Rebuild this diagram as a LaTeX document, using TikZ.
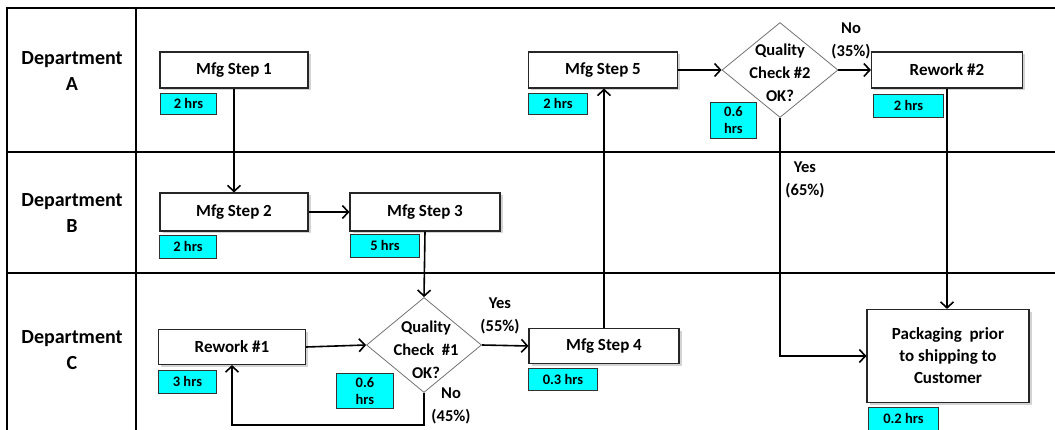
\documentclass[tikz,border=0pt]{standalone}
\usepackage{fontspec}
\setmainfont{Carlito}
\usetikzlibrary{shapes.geometric,shadows,arrows.meta}
\definecolor{timecyan}{RGB}{0,255,255}

\begin{document}
\begin{tikzpicture}[x=1pt,y=-1pt,
    lane/.style={line width=2.2pt, black},
    dept/.style={font=\bfseries\fontsize{20}{26}\selectfont, align=center},
    stepbox/.style={draw=black!85, line width=1.1pt, fill=white, inner sep=0pt,
        drop shadow={shadow xshift=2.5pt, shadow yshift=-2.5pt, opacity=0.35},
        font=\bfseries\fontsize{17}{22}\selectfont, align=center},
    qbox/.style={diamond, draw=black!55, line width=0.8pt, fill=white, inner sep=0pt,
        aspect=1.2, align=center},
    hrs/.style={draw=black!80, line width=0.9pt, fill=timecyan, anchor=north west, inner sep=0pt,
        font=\bfseries\fontsize{14.5}{17}\selectfont, align=center},
    flow/.style={line width=1.6pt, -{Straight Barb[length=6pt,width=13pt,line width=1.6pt]}},
    pct/.style={font=\bfseries\fontsize{16.5}{23}\selectfont, align=center}
]
    \useasboundingbox (0,0) rectangle (1055,430);

    % swim lanes
    \draw[lane] (7,8) -- (1060,8);
    \draw[lane] (7,152) -- (1060,152);
    \draw[lane] (7,273) -- (1060,273);
    \draw[lane] (7,7) -- (7,440);
    \draw[lane] (136,7) -- (136,440);

    \node[dept] (deptA) at (72,71) {Department\\A};
    \node[dept] (deptB) at (72,213) {Department\\B};
    \node[dept] (deptC) at (72,350) {Department\\C};

    % process steps
    \node[stepbox, minimum width=148, minimum height=36] (s1) at (234,70) {Mfg Step 1};
    \node[stepbox, minimum width=148, minimum height=38] (s2) at (234,212) {Mfg Step 2};
    \node[stepbox, minimum width=150, minimum height=38] (s3) at (425,212) {Mfg Step 3};
    \node[stepbox, minimum width=147, minimum height=35] (rw1) at (232,347) {Rework \#1};
    \node[stepbox, minimum width=150, minimum height=35] (s4) at (604,346) {Mfg Step 4};
    \node[stepbox, minimum width=149, minimum height=36] (s5) at (603,70) {Mfg Step 5};
    \node[stepbox, minimum width=151, minimum height=36] (rw2) at (947,70) {Rework \#2};
    \node[stepbox, minimum width=162, minimum height=93] (pk) at (948,356)
        {Packaging\ \ prior\\to shipping to\\Customer};

    % quality checks
    \node[qbox, minimum width=115, minimum height=95] (qc1) at (424,345) {};
    \node[qbox, minimum width=116, minimum height=95] (qc2) at (780,70) {};
    \node[pct] (qc1text) at (426,350) {Quality\\Check\ \ \#1\\OK?};
    \node[pct] (qc2text) at (780,73) {Quality\\Check \#2\\OK?};

    % times
    \node[hrs, minimum width=56, minimum height=21] (t1) at (160,93) {2 hrs};
    \node[hrs, minimum width=57, minimum height=23] (t2) at (159,235) {2 hrs};
    \node[hrs, minimum width=69, minimum height=23] (t3) at (350,234) {5 hrs};
    \node[hrs, minimum width=58, minimum height=23] (tr1) at (158,370) {3 hrs};
    \node[hrs, minimum width=57, minimum height=35] (tq1) at (336,373) {0.6\\hrs};
    \node[hrs, minimum width=69, minimum height=22] (t4) at (528,368) {0.3 hrs};
    \node[hrs, minimum width=59, minimum height=21] (t5) at (528,93) {2 hrs};
    \node[hrs, minimum width=46, minimum height=36] (tq2) at (710,102) {0.6\\hrs};
    \node[hrs, minimum width=70, minimum height=23] (tr2) at (873,94) {2 hrs};
    \node[hrs, minimum width=70, minimum height=23] (tp) at (868,407) {0.2 hrs};

    % flow
    \draw[flow] (s1.south) -- (s2.north);
    \draw[flow] (s2.east) -- (s3.west);
    \draw[flow] (s3.south) -- (qc1.north);
    \draw[flow] (rw1.east) -- (qc1.west);
    \draw[flow] (qc1.east) -- (s4.west);
    \coordinate (back) at (424,425);
    \draw[flow] (qc1.south) -- (back) -| (rw1.south);
    \draw[flow] (s4.north) -- (s4.north |- s5.south);
    \draw[flow] (s5.east) -- (qc2.west);
    \draw[flow] (qc2.east) -- (rw2.west);
    \draw[flow] (rw2.south) -- (rw2.south |- pk.north);
    \draw[flow] (qc2.south) |- (pk.west);

    \node[pct] (yes1) at (500,316) {Yes\\(55\%)};
    \node[pct] (no1) at (451,406) {No\\(45\%)};
    \node[pct] (no2) at (851,41) {No\\(35\%)};
    \node[pct] (yes2) at (805,180) {Yes\\(65\%)};
\end{tikzpicture}
\end{document}
